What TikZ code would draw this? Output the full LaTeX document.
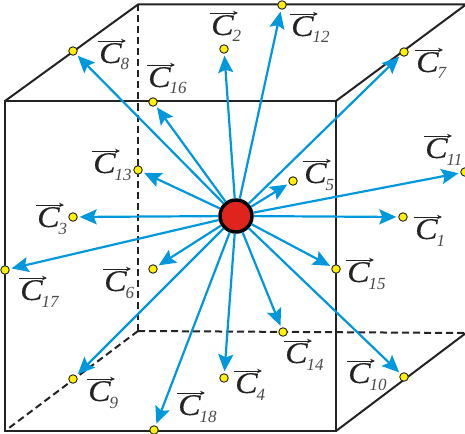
\documentclass[tikz,border=0pt]{standalone}
\usepackage{fontspec}
\setmainfont{Liberation Serif}
\newfontfamily\letterfont[FakeStretch=1.12,FakeBold=0.3]{Liberation Serif}
\usepackage{tikz}
\usetikzlibrary{arrows.meta,positioning,calc}
\definecolor{softink}{RGB}{35,35,35}
\definecolor{softgrey}{RGB}{75,75,75}
\definecolor{rayblue}{RGB}{0,152,221}
\definecolor{dotyellow}{RGB}{255,242,0}
\definecolor{corered}{RGB}{222,36,28}
\newcommand{\vc}[1]{{\letterfont\fontsize{30}{30}\selectfont\itshape C}\kern-1pt\raisebox{-7pt}{\color{softgrey}\fontsize{17}{17}\selectfont\itshape #1}}
\begin{document}
\begin{tikzpicture}[x=1pt,y=-1pt, edge/.style={softink,line width=2pt}, hid/.style={edge,dash pattern=on 7pt off 4pt}, dot/.style={circle,draw=softink,fill=dotyellow,line width=.9pt,inner sep=0,minimum size=8.5pt}, core/.style={circle,draw=black,fill=corered,line width=3.5pt,inner sep=0,minimum size=32pt}, ray/.style={-{Stealth[length=17pt,width=15pt,inset=3pt]},rayblue,line width=2.2pt,shorten >=2pt}, over/.style={-{Stealth[length=5pt,width=4.5pt]},softink,line width=.8pt}, lab/.style={anchor=base west,inner sep=0,text=softink,append after command={(\tikzlastnode.base west) ++(-1,-22) edge[over] +(28,0)}}]
\useasboundingbox (0,0) rectangle (465,433);
\coordinate (fa) at (5,101);\coordinate (fb) at (336,101);\coordinate (fc) at (336,431);\coordinate (fd) at (5,431);
\coordinate (ba) at (138,4.5);\coordinate (bb) at (466,4.5);\coordinate (bc) at (466,333);\coordinate (bd) at (138,331);
% hidden edges first
\draw[hid] (ba)--(bd);\draw[hid] (bd)--(bc);\draw[hid] (bd)--(fd);
\draw[edge] (fa)--(fb)--(fc)--(fd)--cycle;
\draw[edge] (fa)--(ba)--(bb)--(fb);\draw[edge] (bc)--(fc);
\node[core] (o) at (236,216) {};
\node[dot] (p1) at (403,217) {};
\node[dot] (p2) at (224,49) {};
\node[dot] (p3) at (73,217) {};
\node[dot] (p4) at (224,378) {};
\node[dot] (p5) at (293,181) {};
\node[dot] (p6) at (153,269) {};
\node[dot] (p7) at (404,52) {};
\node[dot] (p8) at (73,51) {};
\node[dot] (p9) at (73,379) {};
\node[dot] (p10) at (404,377) {};
\node[dot] (p11) at (465,172) {};
\node[dot] (p12) at (282,5) {};
\node[dot] (p13) at (138,170) {};
\node[dot] (p14) at (283,332) {};
\node[dot] (p15) at (336,269) {};
\node[dot] (p16) at (153,102) {};
\node[dot] (p17) at (5,270) {};
\node[dot] (p18) at (154,430) {};
\node[lab] (c1) at (415,239) {\vc{1}};
\node[lab] (c2) at (211,35) {\vc{2}};
\node[lab] (c3) at (37,227) {\vc{3}};
\node[lab] (c4) at (235,393) {\vc{4}};
\node[lab] (c5) at (304,183) {\vc{5}};
\node[lab] (c6) at (104,291) {\vc{6}};
\node[lab] (c7) at (416,72) {\vc{7}};
\node[lab] (c8) at (99,63) {\vc{8}};
\node[lab] (c9) at (88,401) {\vc{9}};
\node[lab] (c10) at (348,383) {\vc{10}};
\node[lab] (c11) at (425,158) {\vc{11}};
\node[lab] (c12) at (291,36) {\vc{12}};
\node[lab] (c13) at (93,173) {\vc{13}};
\node[lab] (c14) at (285,363) {\vc{14}};
\node[lab] (c15) at (347,282) {\vc{15}};
\node[lab] (c16) at (148,87) {\vc{16}};
\node[lab] (c17) at (20,300) {\vc{17}};
\node[lab] (c18) at (178,415) {\vc{18}};
\draw[ray] (o)--(p1);\draw[ray] (o)--(p2);\draw[ray] (o)--(p3);\draw[ray] (o)--(p4);\draw[ray] (o)--(p5);\draw[ray] (o)--(p6);
\draw[ray] (o)--(p7);\draw[ray] (o)--(p8);\draw[ray] (o)--(p9);\draw[ray] (o)--(p10);\draw[ray] (o)--(p11);\draw[ray] (o)--(p12);
\draw[ray] (o)--(p13);\draw[ray] (o)--(p14);\draw[ray] (o)--(p15);\draw[ray] (o)--(p16);\draw[ray] (o)--(p17);\draw[ray] (o)--(p18);
\end{tikzpicture}
\end{document}
